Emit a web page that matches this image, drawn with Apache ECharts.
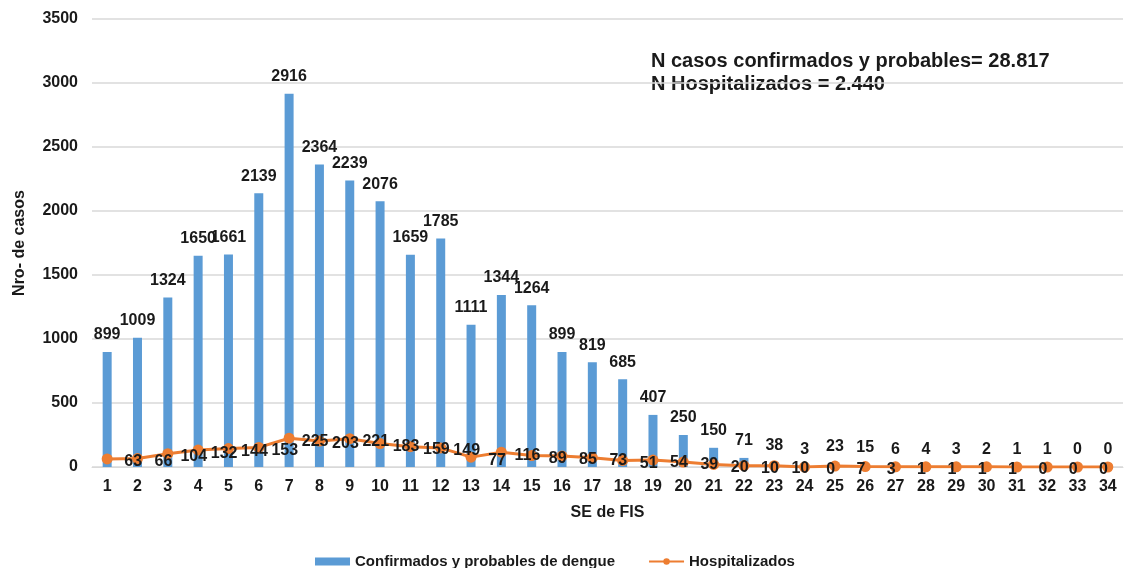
<!DOCTYPE html>
<html>
<head>
<meta charset="utf-8">
<script src="https://cdn.jsdelivr.net/npm/echarts@6/dist/echarts.min.js"></script>
<style>
html,body{margin:0;padding:0;background:#fff;}
#c{width:1130px;height:568px;}
</style>
</head>
<body>
<div id="c"></div>
<script>
const categories = ['1','2','3','4','5','6','7','8','9','10','11','12','13','14','15','16','17','18','19','20','21','22','23','24','25','26','27','28','29','30','31','32','33','34'];
const confirmados = [899,1009,1324,1650,1661,2139,2916,2364,2239,2076,1659,1785,1111,1344,1264,899,819,685,407,250,150,71,38,3,23,15,6,4,3,2,1,1,0,0];
const hospitalizados = [63,66,104,132,144,153,225,203,221,183,159,149,77,116,89,85,73,51,54,39,20,10,10,0,7,3,1,1,1,1,0,0,0,0];
const annotationLines = ['N casos confirmados y probables= 28.817','N Hospitalizados = 2.440'];

const FONT = 'Liberation Sans, Arial, sans-serif';
const TXT = '#1a1a1a';
const chart = echarts.init(document.getElementById('c'));
chart.setOption({
  animation: false,
  backgroundColor: '#fff',
  textStyle: {fontFamily: FONT},
  grid: {left: 92, right: 7, top: 19, bottom: 101, containLabel: false},
  graphic: [{
    type: 'text', left: 651, top: 50,
    style: {text: annotationLines.join('\n'), font: 'bold 20px ' + FONT, fill: TXT, lineHeight: 23}
  }],
  legend: {
    left: 315, top: 554, itemGap: 33, itemWidth: 35, itemHeight: 8,
    padding: 0,
    textStyle: {fontSize: 15, fontWeight: 'bold', color: TXT, fontFamily: FONT},
    data: [
      {name: 'Confirmados y probables de dengue', icon: 'rect'},
      {name: 'Hospitalizados'}
    ]
  },
  xAxis: {
    type: 'category', data: categories,
    name: 'SE de FIS', nameLocation: 'middle', nameGap: 38,
    nameTextStyle: {fontSize: 16, fontWeight: 'bold', color: TXT},
    axisLine: {lineStyle: {color: '#d9d9d9', width: 1}},
    axisTick: {show: false},
    axisLabel: {fontSize: 16, fontWeight: 'bold', color: TXT, margin: 12, interval: 0}
  },
  yAxis: {
    type: 'value', min: 0, max: 3500, interval: 500,
    name: 'Nro- de casos', nameLocation: 'middle', nameGap: 64, nameRotate: 90,
    nameTextStyle: {fontSize: 16, fontWeight: 'bold', color: TXT},
    axisLine: {show: false}, axisTick: {show: false},
    axisLabel: {fontSize: 16, fontWeight: 'bold', color: TXT, margin: 14, formatter: v => String(v)},
    splitLine: {lineStyle: {color: '#d9d9d9', width: 1.5}}
  },
  series: [
    {
      name: 'Confirmados y probables de dengue', type: 'bar', data: confirmados,
      barWidth: 9, itemStyle: {color: '#5b9bd5'},
      label: {show: true, position: 'top', distance: 9, fontSize: 16, fontWeight: 'bold', color: TXT}
    },
    {
      name: 'Hospitalizados', type: 'line', data: hospitalizados,
      symbol: 'circle', symbolSize: 11,
      lineStyle: {color: '#ed7d31', width: 3}, itemStyle: {color: '#ed7d31'},
      label: {show: true, position: 'inside', offset: [26, 3], fontSize: 16, fontWeight: 'bold', color: TXT},
      z: 3
    }
  ]
});
</script>
</body>
</html>
